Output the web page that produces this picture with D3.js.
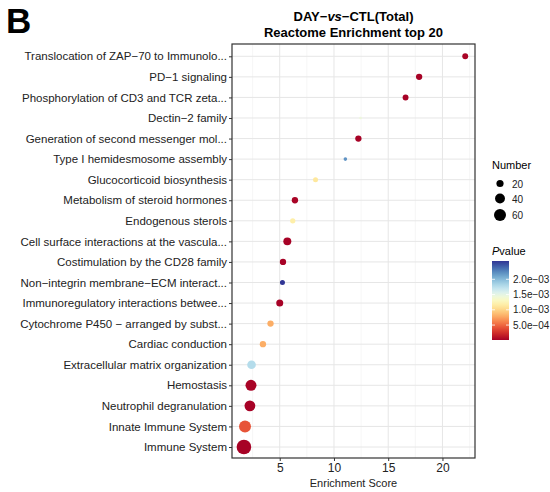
<!DOCTYPE html>
<html>
<head>
<meta charset="utf-8">
<script src="https://cdn.jsdelivr.net/npm/d3@7"></script>
<style>
  body { margin: 0; background: #fff; }
  text { font-family: "Liberation Sans", Arial, Helvetica, sans-serif; }
</style>
</head>
<body>
<script>
// pathway names, top to bottom
var terms = [
  "Translocation of ZAP\u221270 to Immunolo...",
  "PD\u22121 signaling",
  "Phosphorylation of CD3 and TCR zeta...",
  "Dectin\u22122 family",
  "Generation of second messenger mol...",
  "Type I hemidesmosome assembly",
  "Glucocorticoid biosynthesis",
  "Metabolism of steroid hormones",
  "Endogenous sterols",
  "Cell surface interactions at the vascula...",
  "Costimulation by the CD28 family",
  "Non\u2212integrin membrane\u2212ECM interact...",
  "Immunoregulatory interactions betwee...",
  "Cytochrome P450 \u2212 arranged by subst...",
  "Cardiac conduction",
  "Extracellular matrix organization",
  "Hemostasis",
  "Neutrophil degranulation",
  "Innate Immune System",
  "Immune System"
];
var scores = [22.1, 17.85, 16.6, 12.45, 12.25, 11.05, 8.3, 6.4, 6.2, 5.7, 5.3, 5.25, 5.0, 4.15, 3.45, 2.4, 2.35, 2.25, 1.8, 1.7];
var counts = [13, 15, 13, 2, 15, 4, 9, 15, 10, 25, 15, 9, 19, 15, 15, 30, 50, 48, 60, 91];
var pvals = [3e-5, 2e-5, 2e-5, 1.45e-3, 2e-5, 2.2e-3, 1.12e-3, 3e-5, 1.18e-3, 2e-5, 2e-5, 2.6e-3, 2e-5, 8e-4, 8e-4, 1.78e-3, 3e-5, 2e-5, 4.2e-4, 2e-5];

var xTicks = [5, 10, 15, 20];
var xMinor = [2.5, 7.5, 12.5, 17.5, 22.5];
var sizeLegend = [20, 40, 60];
var pTicks = [5e-4, 1e-3, 1.5e-3, 2e-3];

var W = 550, H = 492;
var pLeft = 232, pRight = 475, pTop = 44, pBottom = 458;

var svg = d3.select("body").append("svg").attr("width", W).attr("height", H);

var x = d3.scaleLinear().domain([0.6, 23]).range([pLeft, pRight]);
var y = d3.scalePoint().domain(terms).range([pTop + 12.3, pBottom - 11]);
var r = d3.scaleSqrt().domain([2, 91]).range([1.36, 7.3]);
var pMin = 1e-5, pMax = 2.6e-3;
var color = function(p) { return d3.interpolateRdYlBu((p - pMin) / (pMax - pMin)); };

// grid
svg.append("g").selectAll("line").data(xMinor).join("line")
  .attr("x1", d => x(d)).attr("x2", d => x(d))
  .attr("y1", pTop).attr("y2", pBottom)
  .attr("stroke", "#f0f0f0").attr("stroke-width", 0.6);
svg.append("g").selectAll("line").data(xTicks).join("line")
  .attr("x1", d => x(d)).attr("x2", d => x(d))
  .attr("y1", pTop).attr("y2", pBottom)
  .attr("stroke", "#e6e6e6").attr("stroke-width", 1);
svg.append("g").selectAll("line").data(terms).join("line")
  .attr("x1", pLeft).attr("x2", pRight)
  .attr("y1", d => y(d)).attr("y2", d => y(d))
  .attr("stroke", "#e6e6e6").attr("stroke-width", 1);

// points
svg.append("g").selectAll("circle").data(terms).join("circle")
  .attr("cx", (d, i) => x(scores[i]))
  .attr("cy", d => y(d))
  .attr("r", (d, i) => r(counts[i]))
  .attr("fill", (d, i) => color(pvals[i]));

// panel border
svg.append("rect").attr("x", pLeft).attr("y", pTop)
  .attr("width", pRight - pLeft).attr("height", pBottom - pTop)
  .attr("fill", "none").attr("stroke", "#333").attr("stroke-width", 1.2);

// axes
var xAxis = svg.append("g").attr("transform", "translate(0," + pBottom + ")")
  .call(d3.axisBottom(x).tickValues(xTicks).tickSize(3).tickPadding(2));
xAxis.select(".domain").remove();
xAxis.selectAll("text").attr("font-size", 12).attr("fill", "#222");
xAxis.selectAll("line").attr("stroke", "#333");

var yAxis = svg.append("g").attr("transform", "translate(" + pLeft + ",0)")
  .call(d3.axisLeft(y).tickSize(3).tickPadding(2));
yAxis.select(".domain").remove();
yAxis.selectAll("text").attr("font-size", 11.5).attr("fill", "#222");
yAxis.selectAll("line").attr("stroke", "#333");

svg.append("text").attr("x", (pLeft + pRight) / 2).attr("y", 487)
  .attr("text-anchor", "middle").attr("font-size", 11).attr("fill", "#222")
  .text("Enrichment Score");

// titles
var t1 = svg.append("text").attr("x", (pLeft + pRight) / 2).attr("y", 21)
  .attr("text-anchor", "middle").attr("font-size", 13).attr("font-weight", "bold");
t1.append("tspan").text("DAY\u2212");
t1.append("tspan").attr("font-style", "italic").text("vs");
t1.append("tspan").text("\u2212CTL(Total)");
svg.append("text").attr("x", (pLeft + pRight) / 2).attr("y", 37)
  .attr("text-anchor", "middle").attr("font-size", 13).attr("font-weight", "bold")
  .text("Reactome Enrichment top 20");

svg.append("text").attr("x", 6).attr("y", 33)
  .attr("font-size", 35).attr("font-weight", "bold").text("B");

// size legend
svg.append("text").attr("x", 492).attr("y", 169).attr("font-size", 11).text("Number");
var sl = svg.append("g").selectAll("g").data(sizeLegend).join("g")
  .attr("transform", (d, i) => "translate(500," + [183.5, 198.5, 215][i] + ")");
sl.append("circle").attr("r", d => r(d)).attr("fill", "#000");
sl.append("text").attr("x", 12).attr("y", 4).attr("font-size", 10).attr("fill", "#222").text(d => d);

// colour legend
var pt = svg.append("text").attr("x", 492).attr("y", 255).attr("font-size", 11);
pt.append("tspan").attr("font-style", "italic").text("P");
pt.append("tspan").text("value");

var barTop = 261, barBot = 340, barX = 492, barW = 17;
var defs = svg.append("defs");
var grad = defs.append("linearGradient").attr("id", "pg")
  .attr("x1", 0).attr("y1", 1).attr("x2", 0).attr("y2", 0);
d3.range(0, 1.001, 0.05).forEach(function(t) {
  grad.append("stop").attr("offset", t).attr("stop-color", d3.interpolateRdYlBu(t));
});
svg.append("rect").attr("x", barX).attr("y", barTop).attr("width", barW)
  .attr("height", barBot - barTop).attr("fill", "url(#pg)");
var py = d3.scaleLinear().domain([pMin, pMax]).range([barBot, barTop]);
var cl = svg.append("g").selectAll("g").data(pTicks).join("g")
  .attr("transform", d => "translate(0," + py(d) + ")");
cl.append("line").attr("x1", barX).attr("x2", barX + 3).attr("stroke", "#fff").attr("stroke-width", 0.8);
cl.append("line").attr("x1", barX + barW - 3).attr("x2", barX + barW).attr("stroke", "#fff").attr("stroke-width", 0.8);
cl.append("text").attr("x", barX + barW + 4).attr("y", 3.5).attr("font-size", 10).attr("fill", "#222")
  .text(d => d3.format(".1e")(d).replace("e-", "e\u22120"));
</script>
</body>
</html>
